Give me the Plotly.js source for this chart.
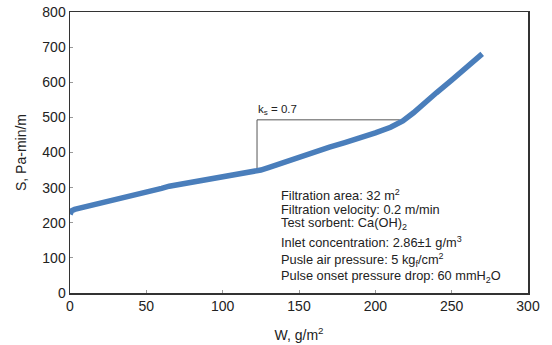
<!DOCTYPE html>
<html>
<head>
<meta charset="utf-8">
<script src="https://cdn.plot.ly/plotly-3.0.1.min.js"></script>
<style>html,body{margin:0;padding:0;background:#fff;}#chart{width:552px;height:345px;}</style>
</head>
<body>
<div id="chart"></div>
<script>
const W = [0, 1, 3, 6, 10, 15, 20, 30, 40, 50, 60, 65, 70, 80, 90, 100, 110, 120, 125, 130, 140, 150, 160, 170, 180, 190, 200, 210, 218, 225, 230, 240, 250, 260, 270];
const S = [224, 234, 238, 241, 245, 250, 255, 266, 277, 288, 298, 304, 308, 315, 321, 328, 336, 345, 350, 357, 372, 388, 402, 415, 428, 441, 456, 472, 490, 513, 533, 570, 606, 643, 681];
const ksX = [122.5, 122.5, 216];
const ksY = [348, 493, 493];
const xTicks = [0, 50, 100, 150, 200, 250, 300];
const yTicks = [0, 100, 200, 300, 400, 500, 600, 700, 800];
const infoLines = [
  "Filtration area: 32 m<sup>2</sup>",
  "Filtration velocity: 0.2 m/min",
  "Test sorbent: Ca(OH)<sub>2</sub>",
  "Inlet concentration: 2.86±1 g/m<sup>3</sup>",
  "Pusle air pressure: 5 kg<sub>f</sub>/cm<sup>2</sup>",
  "Pulse onset pressure drop: 60 mmH<sub>2</sub>O"
];
const ksLabel = "k<sub>s</sub> = 0.7";

const traces = [
  {x: ksX, y: ksY, mode: 'lines', line: {color: '#555555', width: 1}, hoverinfo: 'skip'},
  {x: W, y: S, mode: 'lines', line: {color: '#4a7ebb', width: 5.5}, hoverinfo: 'skip'}
];

const infoYPos = [279, 239, 199, 145, 94, 46];
const annotations = infoLines.map((t, i) => ({
  x: 137, y: infoYPos[i], xref: 'x', yref: 'y', text: t, showarrow: false,
  xanchor: 'left', yanchor: 'middle', font: {family: 'Liberation Sans, Arial', size: 12.8, color: '#222'}
}));
annotations.push({x: 122, y: 522, xref: 'x', yref: 'y', text: ksLabel, showarrow: false,
  xanchor: 'left', yanchor: 'middle', font: {family: 'Liberation Sans, Arial', size: 11.5, color: '#222'}});

const layout = {
  width: 552, height: 345,
  margin: {l: 70, r: 24, t: 12, b: 52},
  paper_bgcolor: '#fff', plot_bgcolor: '#fff',
  showlegend: false,
  font: {family: 'Liberation Sans, Arial', size: 14, color: '#222'},
  xaxis: {range: [0, 300], tickvals: xTicks, ticks: 'inside', ticklen: 3, tickcolor: '#999',
    showgrid: false, zeroline: false, showline: true, linecolor: '#333', linewidth: 1.5, mirror: true,
    tickfont: {size: 14},
    title: {text: 'W, g/m<sup>2</sup>', font: {size: 14}, standoff: 17}},
  yaxis: {range: [0, 800], tickvals: yTicks, ticks: 'inside', ticklen: 3, tickcolor: '#999',
    showgrid: false, zeroline: false, showline: true, linecolor: '#333', linewidth: 1.5, mirror: true,
    tickfont: {size: 14},
    title: {text: 'S, Pa-min/m', font: {size: 14}, standoff: 12}},
  annotations: annotations
};
Plotly.newPlot('chart', traces, layout, {staticPlot: true});
</script>
</body>
</html>
